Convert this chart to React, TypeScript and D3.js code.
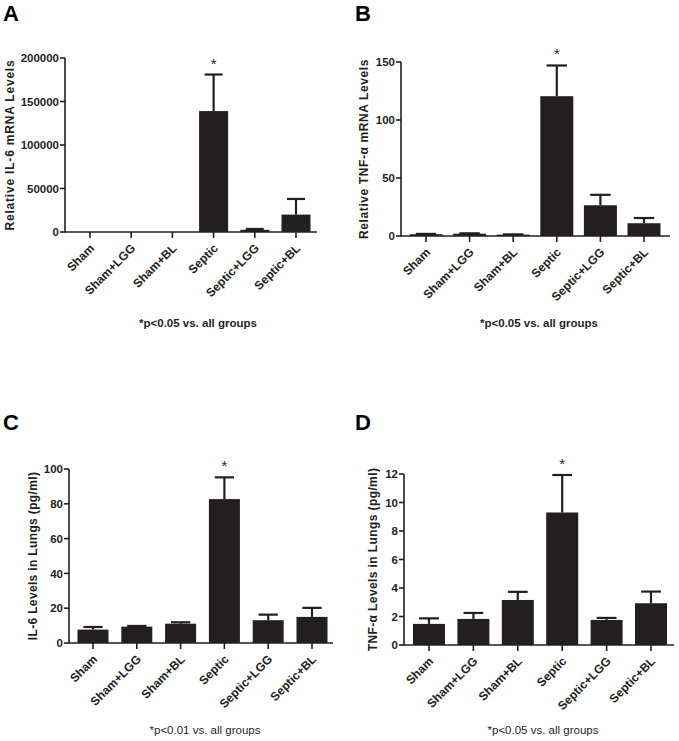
import React from "react";
import * as d3 from "d3";

const categories = ["Sham", "Sham+LGG", "Sham+BL", "Septic", "Septic+LGG", "Septic+BL"];

const il6MrnaMean = [1, 1, 1, 139000, 2500, 20000];
const il6MrnaErr = [0, 0, 0, 42000, 1000, 18000];
const il6MrnaTicks = [0, 50000, 100000, 150000, 200000];

const tnfMrnaMean = [1.5, 2, 1.2, 120.5, 26.5, 11];
const tnfMrnaErr = [0.3, 0.3, 0.2, 26.5, 9, 4.5];
const tnfMrnaTicks = [0, 50, 100, 150];

const il6LungMean = [7.7, 9.4, 11.1, 82.7, 13.1, 15.0];
const il6LungErr = [1.5, 0.4, 0.8, 12.5, 3.2, 5.2];
const il6LungTicks = [0, 20, 40, 60, 80, 100];

const tnfLungMean = [1.48, 1.83, 3.16, 9.3, 1.76, 2.93];
const tnfLungErr = [0.39, 0.42, 0.57, 2.63, 0.14, 0.82];
const tnfLungTicks = [0, 2, 4, 6, 8, 10, 12];

const significant = [false, false, false, true, false, false];

const FONT = "'Liberation Sans', Arial, Helvetica, sans-serif";
const INK = "#231f20";

type PanelProps = {
  letter: string;
  letterX: number;
  letterY: number;
  yLabel: string;
  yLabelX: number;
  labelSpacing: number;
  means: number[];
  errs: number[];
  ticks: number[];
  axisX: number;
  axisRight: number;
  yTop: number;
  yBottom: number;
  firstCenter: number;
  lastCenter: number;
  barWidth: number;
  note: string;
  noteX: number;
  noteY: number;
  noteBold: boolean;
};

function Panel(p: PanelProps) {
  const y = d3
    .scaleLinear()
    .domain([0, p.ticks[p.ticks.length - 1]])
    .range([p.yBottom, p.yTop]);
  const x = d3.scalePoint<string>().domain(categories).range([p.firstCenter, p.lastCenter]);
  const fmt = d3.format("d");
  const cap = p.barWidth * 0.62;
  const yMid = (p.yTop + p.yBottom) / 2;
  return (
    <g>
      <text x={p.letterX} y={p.letterY} fontSize={22} fontWeight="bold" fill="#000" fontFamily={FONT}>
        {p.letter}
      </text>
      {/* bars */}
      {categories.map((c, i) => {
        const cx = x(c)!;
        const top = y(p.means[i]);
        const errTop = y(p.means[i] + p.errs[i]);
        return (
          <g key={c}>
            <rect x={cx - p.barWidth / 2} y={top} width={p.barWidth} height={p.yBottom - top} fill={INK} />
            {p.errs[i] > 0 && (
              <g stroke={INK} strokeWidth={2.2}>
                <line x1={cx} x2={cx} y1={top} y2={errTop} />
                <line x1={cx - cap / 2} x2={cx + cap / 2} y1={errTop} y2={errTop} />
              </g>
            )}
            {significant[i] && (
              <text x={cx} y={errTop - 6} fontSize={15} textAnchor="middle" fill={INK} fontFamily={FONT}>
                *
              </text>
            )}
          </g>
        );
      })}
      {/* y axis */}
      <line x1={p.axisX} x2={p.axisX} y1={p.yTop} y2={p.yBottom} stroke={INK} strokeWidth={1.6} />
      {p.ticks.map((t) => (
        <g key={t}>
          <line x1={p.axisX - 5} x2={p.axisX} y1={y(t)} y2={y(t)} stroke={INK} strokeWidth={1.6} />
          <text
            x={p.axisX - 6}
            y={y(t)}
            dy="0.36em"
            textAnchor="end"
            fontSize={11.5}
            fontWeight="bold"
            fill={INK}
            fontFamily={FONT}
          >
            {fmt(t)}
          </text>
        </g>
      ))}
      {/* x axis */}
      <line x1={p.axisX - 0.8} x2={p.axisRight} y1={p.yBottom} y2={p.yBottom} stroke={INK} strokeWidth={1.6} />
      {categories.map((c) => {
        const cx = x(c)!;
        return (
          <g key={"t" + c}>
            <line x1={cx} x2={cx} y1={p.yBottom} y2={p.yBottom + 6} stroke={INK} strokeWidth={1.6} />
            <text
              transform={`translate(${cx + 5},${p.yBottom + 17}) rotate(-45)`}
              textAnchor="end"
              fontSize={12}
              fontWeight="bold"
              fill={INK}
              fontFamily={FONT}
            >
              {c}
            </text>
          </g>
        );
      })}
      {/* y label */}
      <text
        transform={`translate(${p.yLabelX},${yMid}) rotate(-90)`}
        textAnchor="middle"
        dy="0.36em"
        fontSize={12}
        fontWeight="bold"
        letterSpacing={p.labelSpacing}
        fill={INK}
        fontFamily={FONT}
      >
        {p.yLabel}
      </text>
      <text
        x={p.noteX}
        y={p.noteY}
        textAnchor="middle"
        fontSize={p.noteBold ? 11.5 : 11.5}
        fontWeight={p.noteBold ? "bold" : "normal"}
        fill={INK}
        fontFamily={FONT}
      >
        {p.note}
      </text>
    </g>
  );
}

export default function App() {
  return (
    <svg width={679} height={741} style={{ display: "block", position: "absolute", left: 0, top: 0, background: "#fff" }}>
      <rect width={679} height={741} fill="#fff" />
      <Panel
        letter="A"
        letterX={3}
        letterY={21}
        yLabel="Relative IL-6 mRNA Levels"
        yLabelX={10}
        labelSpacing={0.8}
        means={il6MrnaMean}
        errs={il6MrnaErr}
        ticks={il6MrnaTicks}
        axisX={65}
        axisRight={317}
        yTop={58}
        yBottom={232}
        firstCenter={90}
        lastCenter={296}
        barWidth={29}
        note="*p<0.05 vs. all groups"
        noteX={198}
        noteY={327}
        noteBold={true}
      />
      <Panel
        letter="B"
        letterX={355}
        letterY={21}
        yLabel="Relative TNF-α mRNA Levels"
        yLabelX={364}
        labelSpacing={0.6}
        means={tnfMrnaMean}
        errs={tnfMrnaErr}
        ticks={tnfMrnaTicks}
        axisX={401}
        axisRight={670}
        yTop={62}
        yBottom={236}
        firstCenter={426}
        lastCenter={644}
        barWidth={33}
        note="*p<0.05 vs. all groups"
        noteX={539}
        noteY={327}
        noteBold={true}
      />
      <Panel
        letter="C"
        letterX={3}
        letterY={430}
        yLabel="IL-6 Levels in Lungs (pg/ml)"
        yLabelX={33}
        labelSpacing={0.35}
        means={il6LungMean}
        errs={il6LungErr}
        ticks={il6LungTicks}
        axisX={69}
        axisRight={333}
        yTop={469}
        yBottom={643}
        firstCenter={93}
        lastCenter={312}
        barWidth={31}
        note="*p<0.01 vs. all groups"
        noteX={205}
        noteY={734}
        noteBold={false}
      />
      <Panel
        letter="D"
        letterX={355}
        letterY={430}
        yLabel="TNF-α Levels in Lungs (pg/ml)"
        yLabelX={373}
        labelSpacing={0.4}
        means={tnfLungMean}
        errs={tnfLungErr}
        ticks={tnfLungTicks}
        axisX={404}
        axisRight={674}
        yTop={474}
        yBottom={645}
        firstCenter={429}
        lastCenter={651}
        barWidth={32}
        note="*p<0.05 vs. all groups"
        noteX={543}
        noteY={734}
        noteBold={false}
      />
    </svg>
  );
}
